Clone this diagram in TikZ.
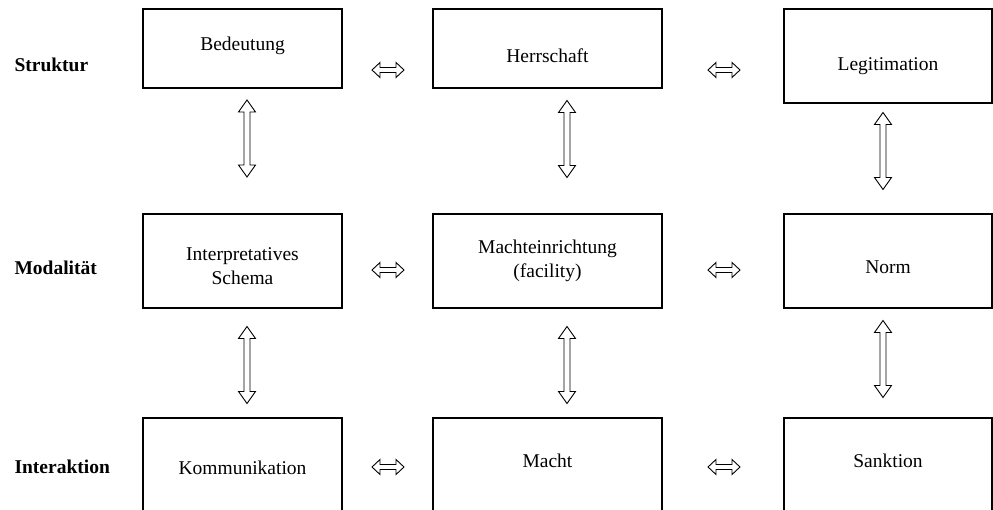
\documentclass[tikz,border=0pt]{standalone}
\usepackage{fontspec}
\setmainfont{Liberation Serif}
\tikzset{
  feld/.style={draw, line width=1.2pt, inner sep=0pt, outer sep=0pt, align=center, text height=14pt, text depth=5pt},
  zeile/.style={anchor=west, font=\fontsize{19.5}{24}\selectfont\bfseries},
  % hohler Doppelpfeil: Laenge, Kopflaenge, halbe Kopfbreite, halbe Schaftbreite
  pics/dpf/.style n args={4}{code={
    \draw[line width=.9pt, line join=miter]
      (-#1/2,0) -- (-#1/2+#2,#3) -- (-#1/2+#2,#4) -- (#1/2-#2,#4) -- (#1/2-#2,#3) -- (#1/2,0)
      -- (#1/2-#2,-#3) -- (#1/2-#2,-#4) -- (-#1/2+#2,-#4) -- (-#1/2+#2,-#3) -- cycle;
  }},
  vpfeil/.style={rotate=90},
}
\begin{document}
\begin{tikzpicture}[x=1pt, y=-1pt, font=\fontsize{19.5}{24}\selectfont]
\useasboundingbox (0,0) rectangle (993,510);
% Zeilen
\node[zeile] (struktur) at (11,65) {Struktur};
\node[zeile] (modal) at (11,268) {Modalität};
\node[zeile] (inter) at (11,467) {Interaktion};
% Struktur
\node[feld, minimum width=199pt, minimum height=79pt, text depth=10pt] (bed) at (242.5,48.5) {Bedeutung};
\node[feld, minimum width=229pt, minimum height=79pt, text height=33pt] (her) at (547.5,48.5) {Herrschaft};
\node[feld, minimum width=208pt, minimum height=94pt, text height=34pt] (leg) at (888,56) {Legitimation};
% Modalitaet
\node[feld, minimum width=199pt, minimum height=94pt, text height=, text depth=] (isch) at (242.5,261) {\rule{0pt}{24pt}Interpretatives\\Schema};
\node[feld, minimum width=229pt, minimum height=94pt, text height=, text depth=] (mein) at (547.5,261) {Machteinrichtung\\(facility)};
\node[feld, minimum width=208pt, minimum height=94pt, text height=30pt] (norm) at (888,261) {Norm};
% Interaktion
\node[feld, minimum width=199pt, minimum height=120pt, text depth=21pt] (kom) at (242.5,478) {Kommunikation};
\node[feld, minimum width=229pt, minimum height=120pt, text depth=35pt] (macht) at (547.5,478) {Macht};
\node[feld, minimum width=208pt, minimum height=120pt, text depth=35pt] (sank) at (888,478) {Sanktion};
% Pfeile waagrecht
\pic (h1) at (388,70) {dpf={32}{8}{7.5}{2.5}};
\pic (h2) at (724,70) {dpf={32}{8}{7.5}{2.5}};
\pic (h3) at (388,270) {dpf={32}{8}{7.5}{2.5}};
\pic (h4) at (724,270) {dpf={32}{8}{7.5}{2.5}};
\pic (h5) at (388,467) {dpf={32}{8}{7.5}{2.5}};
\pic (h6) at (724,467) {dpf={32}{8}{7.5}{2.5}};
% Pfeile senkrecht
\pic[vpfeil] (v1) at (247,138.5) {dpf={77}{12}{8.5}{3}};
\pic[vpfeil] (v2) at (567,139) {dpf={77}{12}{8.5}{3}};
\pic[vpfeil] (v3) at (883,151) {dpf={77}{12}{8.5}{3}};
\pic[vpfeil] (v4) at (247,365) {dpf={77}{12}{8.5}{3}};
\pic[vpfeil] (v5) at (567,365) {dpf={77}{12}{8.5}{3}};
\pic[vpfeil] (v6) at (883,359) {dpf={77}{12}{8.5}{3}};
\end{tikzpicture}
\end{document}
